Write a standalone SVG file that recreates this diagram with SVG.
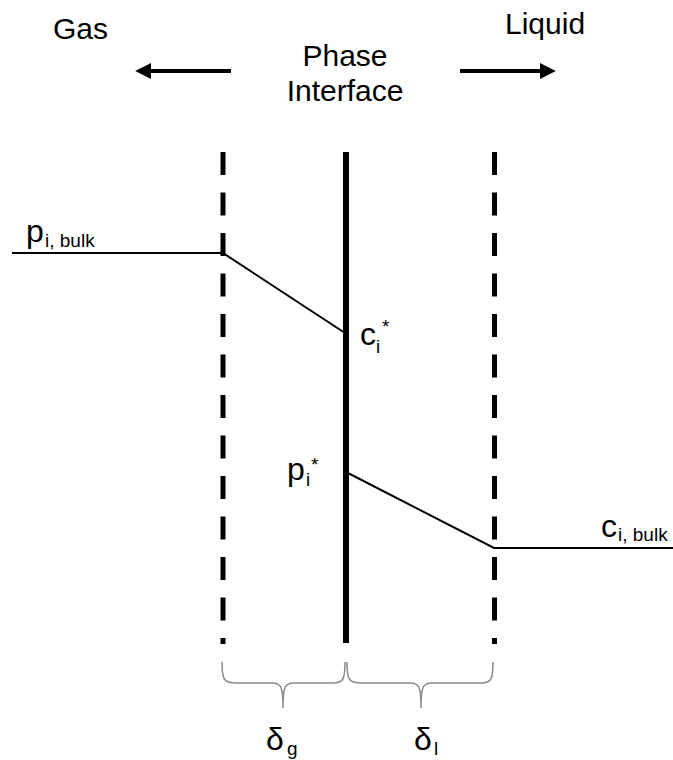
<svg xmlns="http://www.w3.org/2000/svg" width="673" height="760" viewBox="0 0 673 760">
<defs>
<style>
text{font-family:"Liberation Sans",Arial,sans-serif;fill:#000}
.lbl{font-size:30px}
.big{font-size:32px}
.sub{font-size:19px}
.dash{stroke:#000;stroke-width:5;stroke-dasharray:23 17.5;fill:none}
.prof{stroke:#000;stroke-width:2;fill:none}
.brace{stroke:#8a8a8a;stroke-width:1.5;fill:none}
</style>
<marker id="ah" viewBox="0 0 10 10" refX="2" refY="5" markerWidth="4" markerHeight="4" orient="auto-start-reverse" markerUnits="strokeWidth">
<path d="M0,0 L10,5 L0,10 Z" fill="#000"/>
</marker>
</defs>
<rect width="673" height="760" fill="#fff"/>
<g id="header">
<text class="lbl" x="53" y="39">Gas</text>
<text class="lbl" x="345" y="66" text-anchor="middle">Phase</text>
<text class="lbl" x="345" y="101" text-anchor="middle">Interface</text>
<text class="lbl" x="505" y="34">Liquid</text>
</g>
<g id="connectors">
<line x1="231" y1="71" x2="148" y2="71" stroke="#000" stroke-width="4" marker-end="url(#ah)"/>
<line x1="460" y1="71" x2="543" y2="71" stroke="#000" stroke-width="4" marker-end="url(#ah)"/>
<polyline class="prof" points="12,253 223,253 345,333"/>
<polyline class="prof" points="346,472 494,548 673,548"/>
</g>
<g id="gas-film">
<line class="dash" x1="223" y1="152" x2="223" y2="644"/>
</g>
<g id="interface">
<line x1="346" y1="152" x2="346" y2="643" stroke="#000" stroke-width="6"/>
</g>
<g id="liquid-film">
<line class="dash" x1="494.5" y1="152" x2="494.5" y2="644"/>
</g>
<g id="label-pbulk">
<text class="big" x="26" y="242">p</text>
<text class="sub" x="45" y="247">i, bulk</text>
</g>
<g id="label-cstar">
<text class="big" x="360" y="345">c</text>
<text class="sub" x="376" y="353">i</text>
<text class="sub" x="382" y="333">*</text>
</g>
<g id="label-pstar">
<text class="big" x="287" y="480">p</text>
<text class="sub" x="306" y="486">i</text>
<text class="sub" x="311" y="471">*</text>
</g>
<g id="label-cbulk">
<text class="big" x="601" y="537">c</text>
<text class="sub" x="618" y="541">i, bulk</text>
</g>
<g id="braces">
<path class="brace" d="M222,662 C222,680 224,683 236,683 L272,683 C281,683 283,686 283,708 C283,686 285,683 294,683 L333,683 C343,683 345,680 345,662"/>
<path class="brace" d="M347,662 C347,680 349,683 361,683 L410,683 C419,683 421,686 421,708 C421,686 423,683 432,683 L481,683 C491,683 493,680 493,662"/>
</g>
<g id="label-dg">
<text class="big" x="266" y="750">δ</text>
<text class="sub" x="287" y="755">g</text>
</g>
<g id="label-dl">
<text class="big" x="414" y="750">δ</text>
<text class="sub" x="434" y="755">l</text>
</g>
</svg>
